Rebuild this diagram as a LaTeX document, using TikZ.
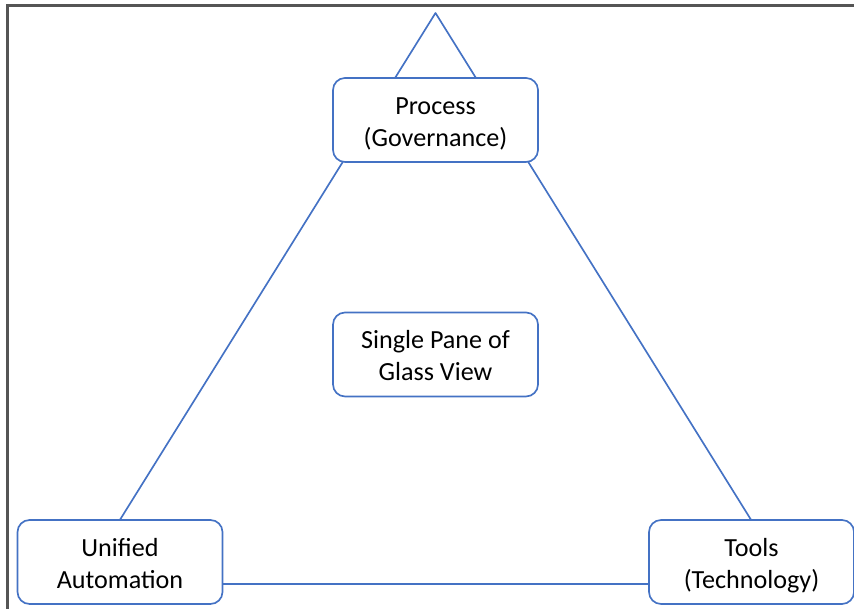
\documentclass[tikz,border=0pt]{standalone}
\usepackage{fontspec}
\setmainfont{Carlito}
\usepackage{xcolor}
\definecolor{boxblue}{RGB}{68,114,196}
\definecolor{framegray}{RGB}{85,85,85}
\newcommand{\upstrut}{\rule{0pt}{22.8pt}}

\begin{document}
\begin{tikzpicture}[x=0.75pt, y=-0.75pt,
    box/.style={draw=boxblue, line width=1.25pt, fill=white, rounded corners=9pt,
        minimum width=153.75pt, minimum height=63pt, align=center, inner sep=0pt,
        font=\fontsize{19.6}{24}\selectfont},
    edge/.style={draw=boxblue, line width=1.25pt, line join=round}]

        \useasboundingbox (0,0) rectangle (854,609);
        \draw[framegray, line width=1.6pt] (7.5,609) -- (7.5,5.5) -- (854,5.5);

        \coordinate (apex) at (435.5,13);
        \coordinate (left foot) at (80,584);
        \coordinate (right foot) at (791,584);
        \path[edge] (apex) -- (left foot) -- (right foot) -- cycle;

        \node[box] (Process) at (435.5,120) {\upstrut Process\\\strut(Governance)};
        \node[box] (Glass) at (435.5,354.5) {\upstrut Single Pane of\\\strut Glass View};
        \node[box] (Automation) at (120,562) {\upstrut Unified\\\strut Automation};
        \node[box] (Tools) at (751.5,562) {\upstrut Tools\\\strut(Technology)};

    \end{tikzpicture}
\end{document}
